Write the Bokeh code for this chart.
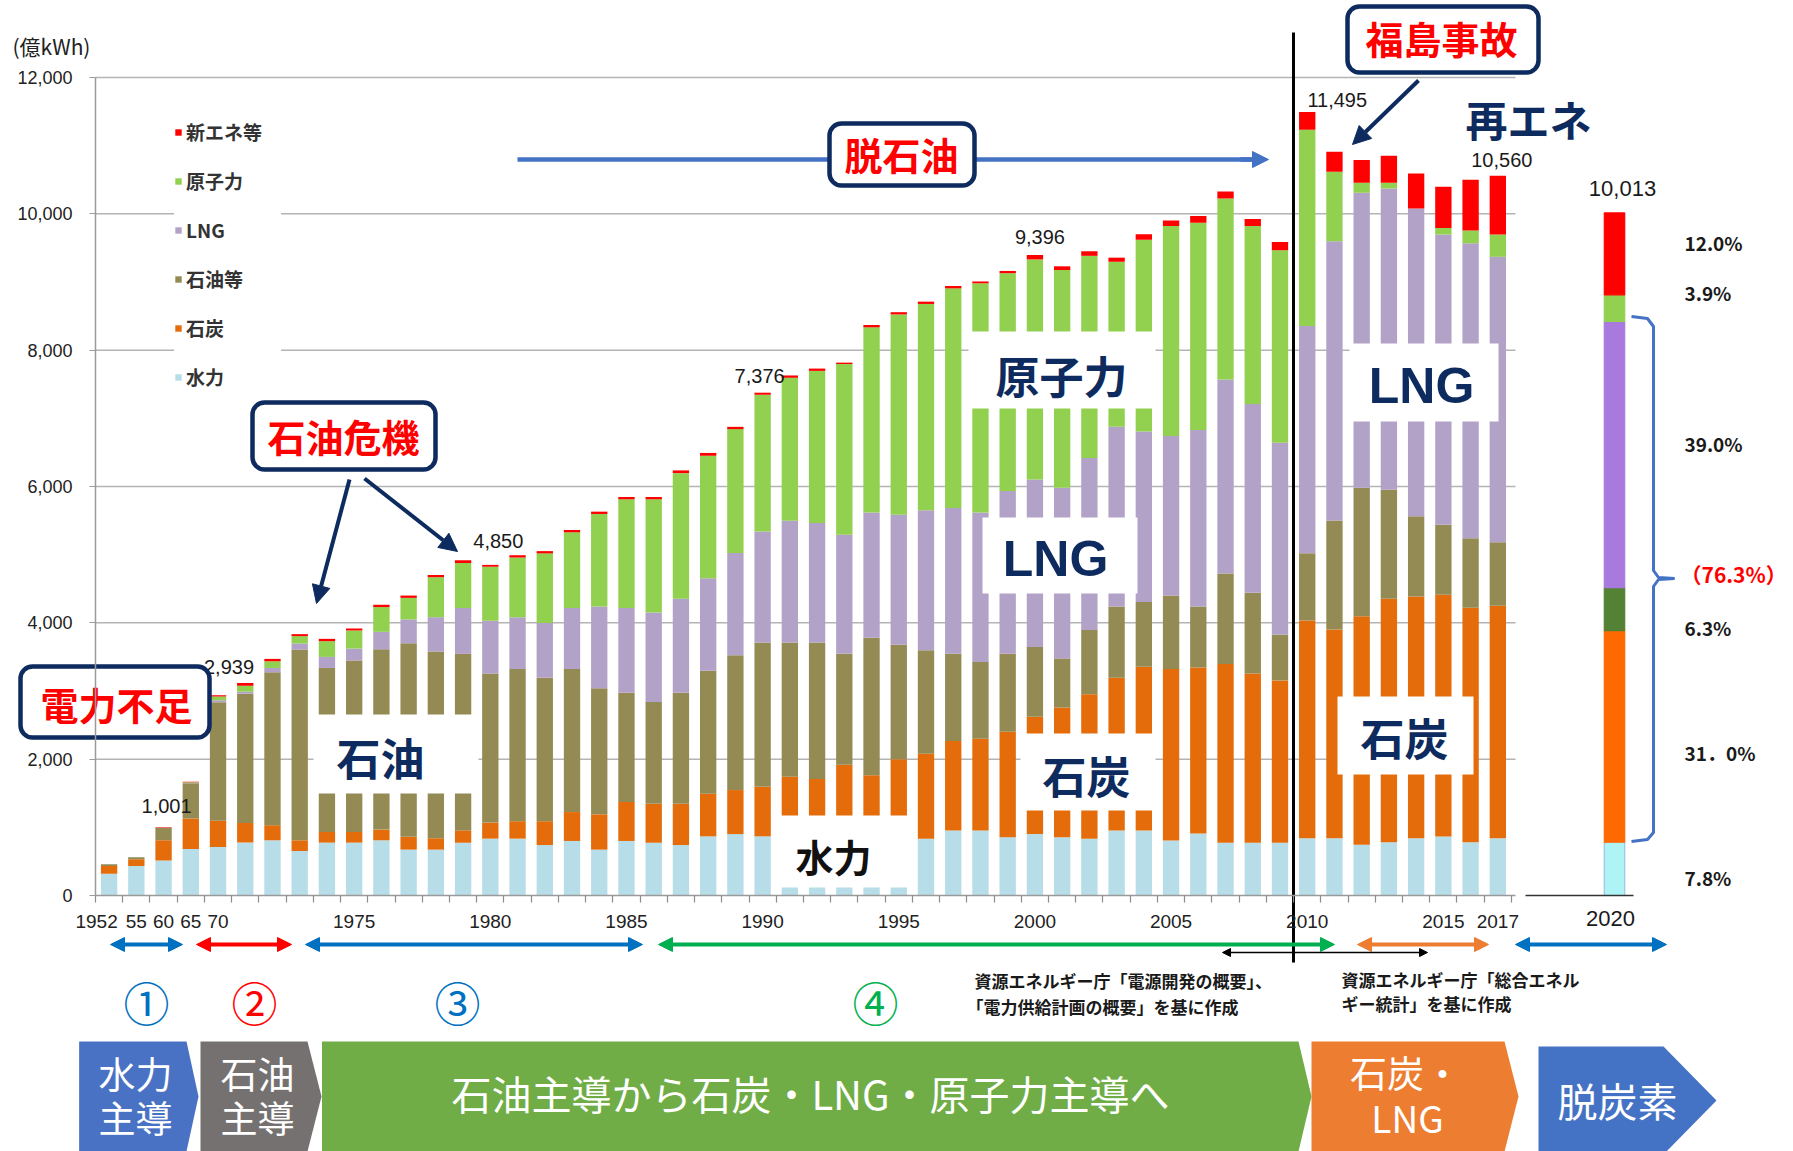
from bokeh.plotting import figure
from bokeh.models import (Range1d, FixedTicker, ColumnDataSource, Legend, LegendItem,
                          Arrow, NormalHead, NumeralTickFormatter)
from bokeh.core.properties import value
from bokeh.embed import file_html
from bokeh.resources import INLINE

# ---------------- data (億kWh) ----------------
years = ["1952", "1955", "1960", "1965"] + [str(y) for y in range(1970, 2018)]

hydro = [320, 432, 515, 682,
         712, 776, 810, 653, 776, 776, 810, 673, 673, 774,
         834, 834, 740, 800, 673, 800, 774, 740, 868, 901,
         868, 950, 850, 950, 780, 880, 834, 955, 955, 854,
         901, 854, 834, 955, 955, 807, 908, 774, 774, 774,
         841, 841, 743, 782, 841, 866, 782, 841]
coal = [112, 98, 295, 447,
        383, 289, 221, 157, 157, 157, 157, 188, 167, 181,
        236, 256, 350, 424, 518, 572, 571, 605, 625, 646,
        726, 792, 859, 967, 983, 1118, 1245, 1312, 1346, 1548,
        1723, 1904, 2119, 2240, 2402, 2516, 2435, 2623, 2482, 2381,
        3193, 3061, 3355, 3570, 3545, 3545, 3438, 3408]
oil = [25, 30, 185, 516,
       1740, 1895, 2243, 2798, 2405, 2513, 2645, 2839, 2739, 2590,
       2186, 2233, 2105, 2099, 1850, 1601, 1494, 1628, 1803, 1978,
       2119, 1971, 2004, 1628, 2018, 1682, 1520, 1278, 1123, 1143,
       1022, 720, 942, 1043, 948, 1077, 895, 1326, 1184, 673,
       988, 1599, 1882, 1599, 1179, 1027, 1022, 934]
lng = [0, 0, 0, 5,
       29, 30, 64, 89, 162, 177, 256, 350, 504, 673,
       774, 760, 801, 895, 1197, 1245, 1312, 1379, 1359, 1500,
       1628, 1783, 1750, 1749, 1836, 1904, 2052, 2139, 2193, 2388,
       2456, 2503, 2523, 2637, 2503, 2341, 2590, 2845, 2772, 2812,
       3333, 4098, 4328, 4421, 4513, 4259, 4327, 4186]
nuclear = [0, 0, 0, 10,
           55, 88, 98, 108, 231, 265, 363, 316, 586, 659,
           793, 875, 1023, 1110, 1359, 1594, 1661, 1844, 1796, 1817,
           2005, 2099, 2233, 2503, 2718, 2940, 3027, 3223, 3364, 3196,
           3229, 3195, 2966, 2422, 2812, 3081, 3041, 2657, 2610, 2825,
           2878, 1018, 147, 83, 0, 97, 186, 328]
newene = [3, 0, 6, 9,
          20, 39, 35, 29, 34, 29, 34, 34, 33, 41,
          27, 34, 33, 34, 34, 34, 34, 40, 41, 33,
          30, 34, 34, 20, 34, 33, 34, 34, 27, 33,
          65, 54, 68, 60, 81, 81, 101, 101, 101, 121,
          262, 293, 333, 397, 514, 602, 744, 863]

series_keys = ["hydro", "coal", "oil", "lng", "nuclear", "newene"]
series_names = ["水力", "石炭", "石油等", "LNG", "原子力", "新エネ等"]
series_colors = ["#b7dde8", "#e46c0a", "#948a54", "#b3a2c7", "#92d050", "#ff0000"]

mix_2020 = [781, 3104, 631, 3905, 391, 1201]
pct_2020 = ["7.8%", "31．0%", "6.3%", "39.0%", "3.9%", "12.0%"]
colors_2020 = ["#aef4f6", "#ff6a00", "#548235", "#a97ade", "#92d050", "#ff0000"]
fossil_share = "（76.3%）"

y_ticks = [0, 2000, 4000, 6000, 8000, 10000, 12000]
x_tick_years = ["1952", "1955", "1960", "1965", "1970", "1975", "1980", "1985",
                "1990", "1995", "2000", "2005", "2010", "2015", "2017"]
x_tick_labels = ["1952", "55", "60", "65", "70", "1975", "1980", "1985",
                 "1990", "1995", "2000", "2005", "2010", "2015", "2017"]
labeled_years = ["1960", "1970", "1980", "1990", "2000", "2010", "2017"]

# ---------------- layout helpers (reference pixels -> data) ----------------
X0, DX = 108.6, 27.23
Y0, DY = 895.0, 818.0 / 12000
W, H = 1793, 1151


def X(px):
    return (px - X0) / DX


def Y(py):
    return (Y0 - py) / DY


NAVY = "#0d2b5e"
JP = "Noto Sans CJK JP"
LAT = "Liberation Sans"

p = figure(width=W, height=H, x_range=Range1d(X(0), X(W)),
           y_range=Range1d(Y(H), Y(0)), output_backend="svg",
           toolbar_location=None, min_border=0)
p.outline_line_color = None
p.background_fill_color = "white"
p.border_fill_color = "white"
p.xgrid.visible = False
p.ygrid.visible = False


def txt(items, size, color, font=JP, style="normal", align="center"):
    p.text(x=[X(a) for _, a, _ in items], y=[Y(b) for _, _, b in items],
           text=[t for t, _, _ in items], text_font=value(font),
           text_font_size=value(size), text_color=color, text_font_style=style,
           text_align=align, text_baseline="middle")


# gridlines
grid_vals = y_ticks[1:]
p.segment(x0=[-0.5] * len(grid_vals), y0=grid_vals, x1=[X(1515)] * len(grid_vals),
          y1=grid_vals, line_color="#b4b4b4", line_width=1.5)

# main stacked bars
idx = list(range(len(years)))
src = ColumnDataSource(dict(x=idx, hydro=hydro, coal=coal, oil=oil, lng=lng,
                            nuclear=nuclear, newene=newene))
bar_r = p.vbar_stack(series_keys, x="x", width=0.6, source=src,
                     fill_color=series_colors, line_color=None)

# 2020 bar
src20 = ColumnDataSource(dict(x=[X(1614)], **{k: [v] for k, v in zip(series_keys, mix_2020)}))
p.vbar_stack(series_keys, x="x", width=0.75, source=src20, fill_color=colors_2020,
             line_color=["#9dc3e6"] + colors_2020[1:], line_width=1.2)
p.segment(x0=[X(1525)], y0=[0], x1=[X(1633)], y1=[0], line_color="#333333", line_width=1.5)

# value labels
totals = [sum(v) for v in zip(hydro, coal, oil, lng, nuclear, newene)]
lab_idx = [years.index(y) for y in labeled_years]
lab_dx = [3, 11, 8, -3, 5, 30, 4]
lab_dy = [-21, -28, -24, -17, -18, -12, -16]
p.text(x=lab_idx, y=[totals[i] for i in lab_idx], text=[f"{totals[i]:,}" for i in lab_idx],
       x_offset=lab_dx, y_offset=lab_dy, text_align="center", text_baseline="middle",
       text_font=value(LAT), text_font_size=value("20px"), text_color="#1a1a1a")
total_2020 = sum(mix_2020)
p.text(x=[X(1614)], y=[total_2020], text=[f"{total_2020:,}"], x_offset=[8], y_offset=[-24],
       text_align="center", text_baseline="middle", text_font=value(LAT),
       text_font_size=value("22px"), text_color="#1a1a1a")

# white label boxes over bars
label_boxes = [
    ("石油", (313, 478, 714, 793), (380, 756), "44px", NAVY, JP),
    ("水力", (775, 910, 815, 887), (833, 855), "38px", "#111111", JP),
    ("原子力", (968, 1155, 331, 408), (1061, 374), "44px", NAVY, JP),
    ("LNG", (982, 1137, 517, 593), (1055, 558), "50px", NAVY, LAT),
    ("石炭", (1020, 1155, 733, 810), (1086, 774), "44px", NAVY, JP),
    ("LNG", (1349, 1498, 343, 421), (1421, 385), "50px", NAVY, LAT),
    ("石炭", (1337, 1473, 696, 774), (1404, 736), "44px", NAVY, JP),
]
p.quad(left=[X(b[0]) for _, b, *_ in label_boxes], right=[X(b[1]) for _, b, *_ in label_boxes],
       top=[Y(b[2]) for _, b, *_ in label_boxes], bottom=[Y(b[3]) for _, b, *_ in label_boxes],
       fill_color="white", line_color=None)
for t, b, c, s, col, f in label_boxes:
    txt([(t, c[0], c[1])], s, col, font=f, style="bold")

# 2010 divider line
p.segment(x0=[X(1293)], y0=[Y(32)], x1=[X(1293)], y1=[Y(962)], line_color="black", line_width=3)

# 脱石油 arrow shaft (behind box)
p.segment(x0=[X(517)], y0=[Y(159)], x1=[X(1255)], y1=[Y(159)], line_color="#4472c4", line_width=4.5)

# callout boxes
callouts = [
    ("脱石油", (829, 974, 123, 185), (901, 153)),
    ("福島事故", (1347, 1538, 6, 72), (1441, 37)),
    ("石油危機", (252, 435, 402, 469), (343, 435)),
    ("電力不足", (20, 209, 666, 737), (116, 703)),
]
p.quad(left=[X(b[0]) for _, b, _ in callouts], right=[X(b[1]) for _, b, _ in callouts],
       top=[Y(b[2]) for _, b, _ in callouts], bottom=[Y(b[3]) for _, b, _ in callouts],
       fill_color="white", line_color=NAVY, line_width=4.5, border_radius=12)
txt([(t, c[0], c[1]) for t, _, c in callouts], "38px", "#ff0000", style="bold")

txt([("再エネ", 1528, 118)], "42px", NAVY, style="bold")
txt([("(億kWh)", 12, 45)], "21px", "#222222", align="left")

# bracket for 2020 fossil share
bx1 = [1631, 1647, 1653, 1653, 1658, 1674]
by1 = [316, 318, 326, 570, 577, 578]
bx2 = [1674, 1658, 1653, 1653, 1647, 1631]
by2 = [578, 579, 586, 832, 839, 841]
p.multi_line(xs=[[X(v) for v in bx1], [X(v) for v in bx2]],
             ys=[[Y(v) for v in by1], [Y(v) for v in by2]], line_color="#4472c4", line_width=3)

# 2020 percentages
pct_y = [877, 752, 627, 443, 292, 242]
txt([(t, 1684, y) for t, y in zip(pct_2020, pct_y)], "19px", "#1a1a1a", style="bold", align="left")
txt([(fossil_share, 1680, 573)], "21px", "#ff0000", style="bold", align="left")
txt([("2020", 1610, 918)], "22px", "#1a1a1a", font=LAT)

# period arrows under axis
period_arrows = [(103, 189, "#0070c0"), (189, 298, "#ff0000"), (298, 649, "#0070c0"),
                 (651, 1341, "#00b050"), (1350, 1495, "#ed7d31"), (1508, 1673, "#0070c0")]
for a, b, c in period_arrows:
    p.add_layout(Arrow(start=NormalHead(size=14, fill_color=c, line_color=c),
                       end=NormalHead(size=14, fill_color=c, line_color=c),
                       x_start=X(a + 7), y_start=Y(944), x_end=X(b - 7), y_end=Y(944),
                       line_color=c, line_width=4))
p.add_layout(Arrow(start=NormalHead(size=8, fill_color="black", line_color="black"),
                   end=NormalHead(size=8, fill_color="black", line_color="black"),
                   x_start=X(1222), y_start=Y(952), x_end=X(1427), y_end=Y(952),
                   line_color="black", line_width=1.5))

# circled period numbers
circ = [("①", 146, 1000, "#0070c0"), ("②", 254, 1000, "#ff0000"),
        ("③", 457, 1000, "#0070c0"), ("④", 875, 1000, "#00b050")]
p.text(x=[X(a) for _, a, _, _ in circ], y=[Y(b) for _, _, b, _ in circ],
       text=[t for t, *_ in circ], text_color=[c for *_, c in circ],
       text_font=value(JP), text_font_size=value("46px"),
       text_align="center", text_baseline="middle")

# source notes
txt([("資源エネルギー庁「電源開発の概要」、", 974, 980), ("「電力供給計画の概要」を基に作成", 966, 1006),
     ("資源エネルギー庁「総合エネル", 1341, 979), ("ギー統計」を基に作成", 1341, 1003)],
    "17px", "#1a1a1a", style="bold", align="left")

# navy annotation arrows
for (xa, ya, xb, yb) in [(1418, 80, 1352, 144), (349, 479, 316, 603), (364, 478, 457, 551)]:
    p.add_layout(Arrow(end=NormalHead(size=18, fill_color=NAVY, line_color=NAVY),
                       x_start=X(xa), y_start=Y(ya), x_end=X(xb), y_end=Y(yb),
                       line_color=NAVY, line_width=4))
p.add_layout(Arrow(end=NormalHead(size=16, fill_color="#4472c4", line_color="#4472c4"),
                   x_start=X(1240), y_start=Y(159), x_end=X(1268), y_end=Y(159),
                   line_color="#4472c4", line_width=4.5))

# bottom era banners
banners = [
    ([(78.6, 1041), (186, 1041), (198, 1096), (186, 1151), (78.6, 1151)], "#4a72c4"),
    ([(200, 1041), (307, 1041), (321, 1096), (307, 1151), (200, 1151)], "#767171"),
    ([(321.5, 1041), (1298, 1041), (1311, 1096), (1298, 1151), (321.5, 1151)], "#70ad47"),
    ([(1311, 1041), (1504, 1041), (1518, 1096), (1504, 1151), (1311, 1151)], "#ed7d31"),
    ([(1538, 1046), (1663, 1046), (1716, 1100), (1663, 1154), (1538, 1154)], "#4472c4"),
]
p.patches(xs=[[X(a) for a, _ in pts] for pts, _ in banners],
          ys=[[Y(b) for _, b in pts] for pts, _ in banners],
          fill_color=[c for _, c in banners], line_color=None)
txt([("水力", 135, 1072), ("主導", 135, 1116), ("石油", 257, 1072), ("主導", 257, 1116),
     ("石炭・", 1405, 1071), ("LNG", 1407, 1116)], "37px", "white")
txt([("石油主導から石炭・LNG・原子力主導へ", 810, 1092), ("脱炭素", 1617, 1099)], "40px", "white")

# axes
xa = p.xaxis[0]
xa.fixed_location = 0
xa.bounds = (-0.5, X(1515))
tick_shift = {"1952": -0.46}
x_tick_pos = [float(years.index(y)) + tick_shift.get(y, 0.0) for y in x_tick_years]
xa.ticker = FixedTicker(ticks=x_tick_pos, minor_ticks=[i - 0.5 for i in range(len(years) + 1)])
xa.major_label_overrides = {pos: lab for pos, lab in zip(x_tick_pos, x_tick_labels)}
xa.major_tick_line_color = None
xa.major_tick_out = 0
xa.major_tick_in = 0
xa.minor_tick_out = 7
xa.minor_tick_in = 0
xa.minor_tick_line_color = "#8c8c8c"
xa.minor_tick_line_width = 1.2
xa.axis_line_color = "#9a9a9a"
xa.axis_line_width = 1.5
xa.major_label_standoff = 12
xa.major_label_text_font = LAT
xa.major_label_text_font_size = "19px"
xa.major_label_text_color = "#222222"

ya = p.yaxis[0]
ya.fixed_location = -0.5
ya.bounds = (0, 12000)
ya.ticker = FixedTicker(ticks=y_ticks)
ya.formatter = NumeralTickFormatter(format="0,0")
ya.major_tick_out = 6
ya.major_tick_in = 0
ya.major_tick_line_color = "#9a9a9a"
ya.minor_tick_line_color = None
ya.axis_line_color = "#9a9a9a"
ya.axis_line_width = 1.5
ya.major_label_standoff = 17
ya.major_label_text_font = LAT
ya.major_label_text_font_size = "18px"
ya.major_label_text_color = "#222222"

# legend
items = [LegendItem(label=n, renderers=[r]) for n, r in reversed(list(zip(series_names, bar_r)))]
legend = Legend(items=items, location=(174, 761), background_fill_color="white",
                background_fill_alpha=1.0, border_line_color=None, glyph_width=8,
                glyph_height=8, label_standoff=4, label_height=26, spacing=22, padding=8,
                margin=0, label_width=95, label_text_font=JP, label_text_font_size="19px",
                label_text_font_style="bold", label_text_color="#333333")
p.add_layout(legend)

open("out.html", "w").write(file_html(p, INLINE))
